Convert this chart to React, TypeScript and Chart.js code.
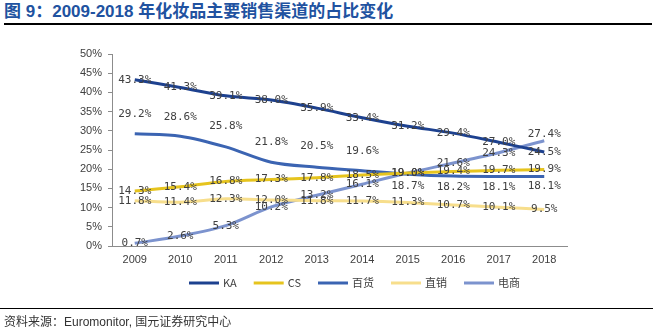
import React, { useEffect, useRef } from "react";
import { Chart, registerables } from "chart.js";

Chart.register(...registerables);

const years = ["2009", "2010", "2011", "2012", "2013", "2014", "2015", "2016", "2017", "2018"];
const seriesNames = ["KA", "CS", "百货", "直销", "电商"];
const kaValues = [43.3, 41.3, 39.1, 38.0, 35.9, 33.4, 31.2, 29.4, 27.0, 24.5];
const csValues = [14.3, 15.4, 16.8, 17.3, 17.8, 18.5, 19.0, 19.4, 19.7, 19.9];
const deptValues = [29.2, 28.6, 25.8, 21.8, 20.5, 19.6, 18.7, 18.2, 18.1, 18.1];
const directValues = [11.8, 11.4, 12.3, 12.0, 11.8, 11.7, 11.3, 10.7, 10.1, 9.5];
const ecomValues = [0.7, 2.6, 5.3, 10.2, 13.2, 16.1, 19.0, 21.6, 24.3, 27.4];

const colors = ["#1D418F", "#E6C41E", "#3B64B2", "#F7DE8C", "#7C93CE"];
// vertical offsets (px) of data labels relative to points, per series
const labelOffsets = [
  [0, 0, 0, 0, 0, 0, 0, 0, 0, 0],
  [0, 0, 0, 0, 0, 0, 0, 0, 0, 0],
  [-20, -19, -21, -20, -21, -20, 12, 11, 11, 10],
  [0, 0, 0, 0, 0, 0, 0, 0, 0, 0],
  [0, 0, 0, 0, 0, 0, 0, 0, 0, -7],
];

const labelPlugin = {
  id: "valueLabels",
  afterDatasetsDraw(chart: any) {
    const ctx = chart.ctx;
    ctx.save();
    ctx.font = '11px "DejaVu Sans Mono", monospace';
    ctx.fillStyle = "#404040";
    ctx.textAlign = "center";
    ctx.textBaseline = "middle";
    chart.data.datasets.forEach((ds: any, i: number) => {
      const meta = chart.getDatasetMeta(i);
      meta.data.forEach((pt: any, j: number) => {
        const v = ds.data[j];
        ctx.fillText(v.toFixed(1) + "%", pt.x, pt.y + labelOffsets[i][j]);
      });
    });
    ctx.restore();
  },
};

const legendPlugin = {
  id: "customLegend",
  afterDraw(chart: any) {
    const ctx = chart.ctx;
    ctx.save();
    ctx.font = '11px "Liberation Sans Narrow", "Noto Sans CJK SC", sans-serif';
    ctx.textBaseline = "middle";
    ctx.textAlign = "left";
    const y = 283;
    const lineLen = 30;
    const gap = 4;
    const itemGap = 17;
    const widths = seriesNames.map((n) => lineLen + gap + ctx.measureText(n).width);
    const total = widths.reduce((a, b) => a + b, 0) + itemGap * (seriesNames.length - 1);
    let x = 354.5 - total / 2;
    seriesNames.forEach((n, i) => {
      ctx.strokeStyle = colors[i];
      ctx.lineWidth = 3;
      ctx.beginPath();
      ctx.moveTo(x, y);
      ctx.lineTo(x + lineLen, y);
      ctx.stroke();
      ctx.fillStyle = "#404040";
      ctx.fillText(n, x + lineLen + gap, y);
      x += widths[i] + itemGap;
    });
    ctx.restore();
  },
};

export default function App() {
  const ref = useRef<HTMLCanvasElement>(null);
  useEffect(() => {
    const allValues = [kaValues, csValues, deptValues, directValues, ecomValues];
    const chart = new Chart(ref.current!, {
      type: "line",
      data: {
        labels: years,
        datasets: seriesNames.map((name, i) => ({
          label: name,
          data: allValues[i],
          borderColor: colors[i],
          backgroundColor: colors[i],
          borderWidth: 3,
          pointRadius: 0,
          tension: 0.3,
          fill: false,
        })),
      },
      options: {
        responsive: false,
        animation: false,
        layout: { padding: { left: 0, right: 90, top: 54, bottom: 64 } },
        plugins: { legend: { display: false }, tooltip: { enabled: false } },
        scales: {
          x: {
            type: "category",
            offset: true,
            grid: { display: false, drawTicks: false },
            border: { display: true, color: "#8C8C8C", width: 1 },
            ticks: {
              color: "#404040",
              padding: 7,
              font: { family: '"Liberation Sans Narrow", "Liberation Sans", sans-serif', size: 11 },
              maxRotation: 0,
            },
            afterFit: (s: any) => {
              s.height = 22;
            },
          },
          y: {
            min: 0,
            max: 50,
            ticks: {
              stepSize: 5,
              color: "#404040",
              padding: 6,
              font: { family: '"Liberation Sans Narrow", "Liberation Sans", sans-serif', size: 11 },
              callback: (v: any) => v + "%",
            },
            grid: { display: true, drawOnChartArea: false, drawTicks: true, tickLength: 4, color: "#8C8C8C" },
            border: { display: true, color: "#8C8C8C", width: 1 },
            afterFit: (s: any) => {
              s.width = 112;
            },
          },
        },
      },
      plugins: [labelPlugin, legendPlugin],
    });
    return () => chart.destroy();
  }, []);

  return (
    <div style={{ position: "absolute", left: 0, top: 0, width: 657, height: 332, background: "#fff", overflow: "hidden" }}>
      <div
        style={{
          position: "absolute",
          left: 4,
          top: 2,
          fontFamily: '"Liberation Sans", "Noto Sans CJK SC", sans-serif',
          fontWeight: "bold",
          fontSize: 17,
          color: "#2152A0",
          whiteSpace: "nowrap",
          lineHeight: "20px",
        }}
      >
        图 9：2009-2018 年化妆品主要销售渠道的占比变化
      </div>
      <div style={{ position: "absolute", left: 4, top: 23, width: 648, height: 2, background: "#000" }} />
      <canvas ref={ref} width={657} height={332} style={{ position: "absolute", left: 0, top: 0, width: 657, height: 332 }} />
      <div style={{ position: "absolute", left: 0, top: 307.5, width: 653, height: 1.5, background: "#000" }} />
      <div
        style={{
          position: "absolute",
          left: 4,
          top: 314,
          fontFamily: '"Liberation Sans", "Noto Sans CJK SC", sans-serif',
          fontSize: 12,
          color: "#333",
          whiteSpace: "nowrap",
          lineHeight: "16px",
        }}
      >
        资料来源：Euromonitor, 国元证券研究中心
      </div>
    </div>
  );
}
